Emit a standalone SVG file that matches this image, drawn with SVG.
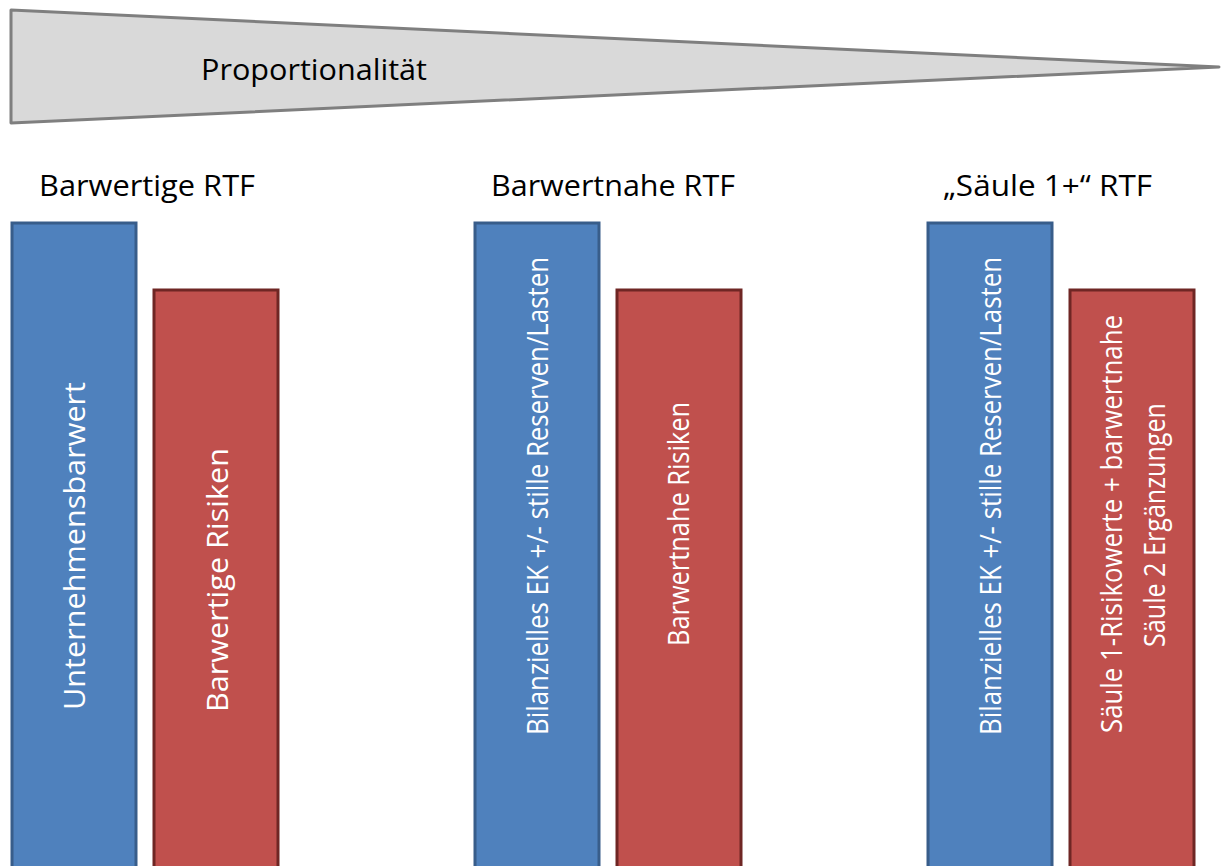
<svg xmlns="http://www.w3.org/2000/svg" width="1228" height="866" viewBox="0 0 1228 866">
  <style>
    .lbl { font-family: "Open Sans", "Liberation Sans", sans-serif; fill: #000000; font-size: 30px; }
    .vt { font-family: "Open Sans", "Liberation Sans", sans-serif; fill: #ffffff; font-size: 30px; text-anchor: middle; }
    .blue { fill: #4f81bd; stroke: #385d8a; stroke-width: 3; }
    .red { fill: #c0504d; stroke: #6f2624; stroke-width: 3; }
    .wedge { fill: #d9d9d9; stroke: #7f7f7f; stroke-width: 3; stroke-linejoin: round; }
  </style>
  <rect width="1228" height="866" fill="#ffffff"/>
  <g id="proportionalitaet">
    <polygon class="wedge" points="11,10 1219,67 11,123"/>
    <text class="lbl" x="201" y="80" textLength="226" lengthAdjust="spacingAndGlyphs">Proportionalität</text>
  </g>
  <g id="head-barwertig">
    <text class="lbl" x="39" y="196" textLength="216" lengthAdjust="spacingAndGlyphs">Barwertige RTF</text>
  </g>
  <g id="head-barwertnah">
    <text class="lbl" x="491" y="196" textLength="244" lengthAdjust="spacingAndGlyphs">Barwertnahe RTF</text>
  </g>
  <g id="head-saeule">
    <text class="lbl" x="943" y="196" textLength="209" lengthAdjust="spacingAndGlyphs">„Säule 1+“ RTF</text>
  </g>
  <g id="bar-unternehmensbarwert">
    <rect class="blue" x="12" y="223" width="124" height="660"/>
    <text class="vt" transform="translate(85,546) rotate(-90)" textLength="328" lengthAdjust="spacingAndGlyphs">Unternehmensbarwert</text>
  </g>
  <g id="bar-barwertige-risiken">
    <rect class="red" x="154" y="290" width="124" height="600"/>
    <text class="vt" transform="translate(228,580) rotate(-90)" textLength="264" lengthAdjust="spacingAndGlyphs">Barwertige Risiken</text>
  </g>
  <g id="bar-bilanz-1">
    <rect class="blue" x="475" y="223" width="124" height="660"/>
    <text class="vt" transform="translate(548,496) rotate(-90)" textLength="478" lengthAdjust="spacingAndGlyphs">Bilanzielles EK +/- stille Reserven/Lasten</text>
  </g>
  <g id="bar-barwertnahe-risiken">
    <rect class="red" x="617" y="290" width="124" height="600"/>
    <text class="vt" transform="translate(689,524) rotate(-90)" textLength="244" lengthAdjust="spacingAndGlyphs">Barwertnahe Risiken</text>
  </g>
  <g id="bar-bilanz-2">
    <rect class="blue" x="928" y="223" width="124" height="660"/>
    <text class="vt" transform="translate(1001,496) rotate(-90)" textLength="478" lengthAdjust="spacingAndGlyphs">Bilanzielles EK +/- stille Reserven/Lasten</text>
  </g>
  <g id="bar-saeule-risiken">
    <rect class="red" x="1070" y="290" width="124" height="600"/>
    <text class="vt" transform="translate(1122,524) rotate(-90)" textLength="418" lengthAdjust="spacingAndGlyphs">Säule 1-Risikowerte + barwertnahe</text>
    <text class="vt" transform="translate(1165,525) rotate(-90)" textLength="244" lengthAdjust="spacingAndGlyphs">Säule 2 Ergänzungen</text>
  </g>
  <g id="connectors"></g>
</svg>
